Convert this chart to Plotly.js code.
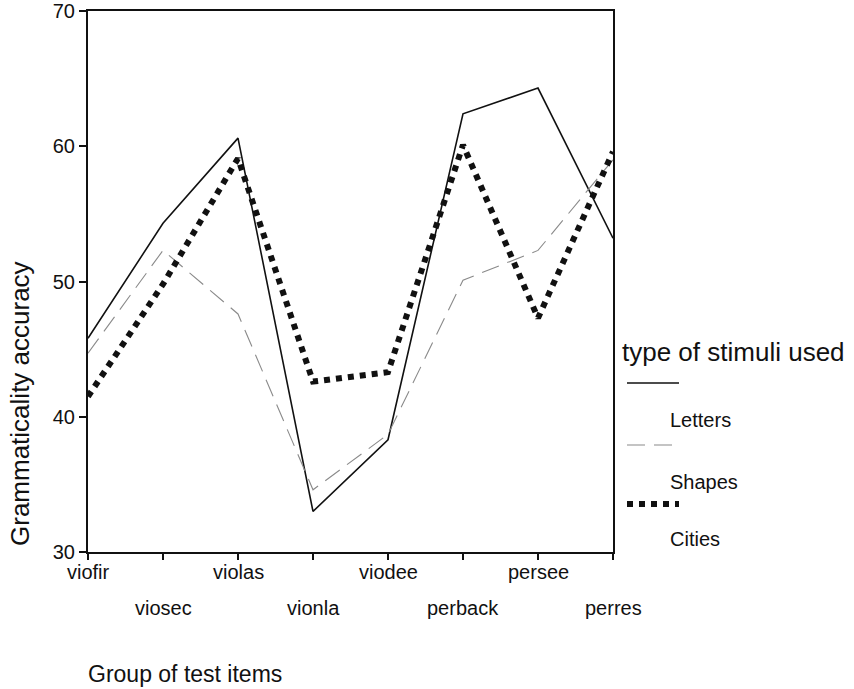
<!DOCTYPE html>
<html>
<head>
<meta charset="utf-8">
<script src="https://cdn.plot.ly/plotly-3.0.1.min.js"></script>
<style>html,body{margin:0;padding:0;background:#fff;}#chart{width:854px;height:689px;}</style>
</head>
<body>
<div id="chart"></div>
<script>
const categories = ["viofir","viosec","violas","vionla","viodee","perback","persee","perres"];
const letters = [45.8, 54.3, 60.6, 33.0, 38.3, 62.4, 64.3, 53.2];
const shapes  = [44.7, 52.3, 47.6, 34.6, 38.7, 50.1, 52.3, 59.0];
const cities  = [41.5, 49.8, 59.1, 42.6, 43.3, 60.1, 47.3, 59.6];
const yTicks = [30, 40, 50, 60, 70];
const seriesNames = ["Letters", "Shapes", "Cities"];
const legendTitle = "type of stimuli used";
const xTitle = "Group of test items";
const yTitle = "Grammaticality accuracy";

const idx = categories.map((c, i) => i);
const FONT = "Liberation Sans, Arial, sans-serif";

const traces = [
  {x: idx, y: letters, mode: "lines", name: seriesNames[0], line: {color: "#111", width: 1.6}},
  {x: idx, y: shapes, mode: "lines", name: seriesNames[1], line: {color: "#8a8a8a", width: 1.1, dash: "18px,9px"}},
  {x: idx, y: cities, mode: "lines", name: seriesNames[2], line: {color: "#111", width: 6, dash: "6px,6px"}}
];

const annotations = [];
categories.forEach((c, i) => {
  annotations.push({x: i, xref: "x", y: 0, yref: "paper", yshift: (i % 2 === 0) ? -20 : -56,
    text: c, showarrow: false, font: {family: FONT, size: 20, color: "#111"}, xanchor: "center", yanchor: "middle"});
});
annotations.push({x: -88/525, xref: "paper", y: 0, yref: "paper", xshift: 20, yshift: 148,
  text: yTitle, textangle: -90, showarrow: false, font: {family: FONT, size: 26, color: "#111"},
  xanchor: "center", yanchor: "middle"});
annotations.push({x: 0, xref: "paper", y: 0, yref: "paper", yshift: -122, xshift: -2,
  text: xTitle, showarrow: false, font: {family: FONT, size: 23, color: "#111"}, xanchor: "left", yanchor: "middle"});
annotations.push({x: 1, xref: "paper", y: 0, yref: "paper", xshift: 7, yshift: 200,
  text: legendTitle, showarrow: false, font: {family: FONT, size: 26, color: "#111"}, xanchor: "left", yanchor: "middle"});

const legendRows = [
  {line: 383, text: 420},
  {line: 445, text: 482},
  {line: 504, text: 539}
];
const shapesList = [];
legendRows.forEach((r, k) => {
  const tr = traces[k];
  shapesList.push({type: "line", xref: "paper", yref: "paper",
    x0: 1 + 14/525, x1: 1 + 66/525, y0: (552 - r.line)/541, y1: (552 - r.line)/541,
    line: {color: tr.line.color, width: tr.line.width, dash: tr.line.dash || "solid"}});
  annotations.push({x: 1 + 55/525, xref: "paper", y: (552 - r.text)/541, yref: "paper",
    text: seriesNames[k], showarrow: false, font: {family: FONT, size: 20, color: "#111"},
    xanchor: "left", yanchor: "middle"});
});

const layout = {
  width: 854, height: 689,
  margin: {l: 88, r: 241, t: 11, b: 137, pad: 0},
  paper_bgcolor: "#fff", plot_bgcolor: "#fff",
  showlegend: false,
  font: {family: FONT, size: 20, color: "#111"},
  xaxis: {range: [0, 7], tickvals: idx, showticklabels: false, ticks: "outside", ticklen: 6, tickwidth: 2,
    tickcolor: "#111", showline: true, linecolor: "#111", linewidth: 2, mirror: true, showgrid: false, zeroline: false,
    fixedrange: true},
  yaxis: {range: [30, 70], tickvals: yTicks, ticks: "outside", ticklen: 7, tickwidth: 2, tickcolor: "#111",
    showline: true, linecolor: "#111", linewidth: 2, mirror: true, showgrid: false, zeroline: false,
    tickfont: {family: FONT, size: 20, color: "#111"}, fixedrange: true},
  annotations: annotations,
  shapes: shapesList
};

Plotly.newPlot("chart", traces, layout, {staticPlot: true, displayModeBar: false});
</script>
</body>
</html>
